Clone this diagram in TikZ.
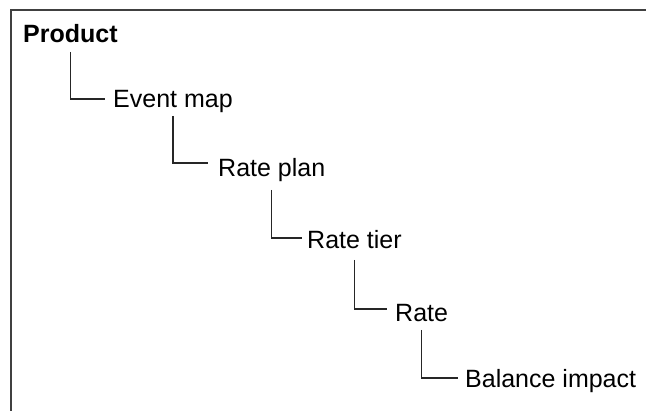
\documentclass[tikz,border=0pt]{standalone}
\usepackage{fontspec}
\setmainfont{Liberation Sans}
\usepackage{xcolor}
\usetikzlibrary{positioning}

\begin{document}
\begin{tikzpicture}[x=1pt,y=-1pt,
item/.style={anchor=base west,inner sep=0pt,font=\fontsize{25}{30}\selectfont},
link/.style={line width=1.3pt,black!85}]
\useasboundingbox (0,0) rectangle (646,411);
\draw[line width=2.2pt,black!75] (11,411) -- (11,10) -- (646,10);
\node[item,font=\fontsize{25}{30}\selectfont\bfseries] (prod) at (23,43) {Product};
\node[item] (evmap) at (113,108) {Event map};
\node[item] (rplan) at (218,177) {Rate plan};
\node[item] (rtier) at (307,249) {Rate tier};
\node[item] (rate) at (395,322) {Rate};
\node[item] (bal) at (465,388) {Balance impact};
\draw[link] ([yshift=-9pt]prod.base) |- ([xshift=-8pt,yshift=9pt]evmap.base west);
\draw[link] ([yshift=-8pt]evmap.base) |- ([xshift=-10pt,yshift=14pt]rplan.base west);
\draw[link] ([yshift=-13pt]rplan.base) |- ([xshift=-5pt,yshift=11pt]rtier.base west);
\draw[link] ([yshift=-11pt]rtier.base) |- ([xshift=-8pt,yshift=13pt]rate.base west);
\draw[link] ([yshift=-8pt]rate.base) |- ([xshift=-7pt,yshift=10pt]bal.base west);
\end{tikzpicture}
\end{document}
